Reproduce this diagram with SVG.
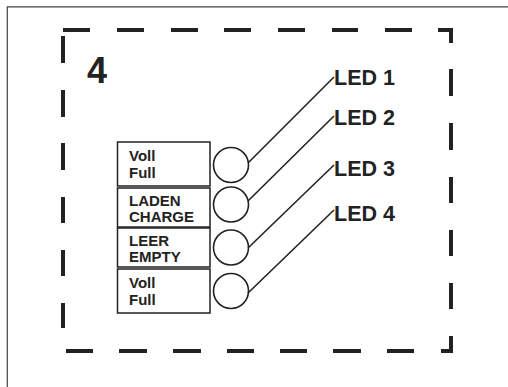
<svg xmlns="http://www.w3.org/2000/svg" width="508" height="387" viewBox="0 0 508 387">
<style>
.frame{fill:none;stroke:#444;stroke-width:1.2}
.dash{fill:none;stroke:#222;stroke-width:4;stroke-linecap:butt;stroke-linejoin:miter}
.box{fill:#fff;stroke:#222;stroke-width:1.5}
.led{fill:#fff;stroke:#222;stroke-width:1.6}
.wire{fill:none;stroke:#222;stroke-width:1.6}
.lbl{font-family:"Liberation Sans",Arial,sans-serif;font-weight:bold;fill:#222;font-size:15px}
.ledt{font-family:"Liberation Sans",Arial,sans-serif;font-weight:bold;fill:#222;font-size:21.5px}
</style>
<rect width="508" height="387" fill="#fff"/>
<path class="frame" d="M7.3,387 V6.8 H508"/>
<g id="dashed-border">
<path class="dash" d="M63,30H90M117,30H144M171,30H198M224,30H251M278,30H305M332,30H358M385,30H412M438,30H451V43"/>
<path class="dash" d="M451,69V96M451,123V150M451,177V203M451,230V256M451,283V309M451,336V351H441"/>
<path class="dash" d="M66,351H93M119,351H147M173,351H201M227,351H254M280,351H307M333,351H361M387,351H414"/>
<path class="dash" d="M63,36V63M63,90V117M63,143V170M63,197V223M63,250V276M63,303V328"/>
</g>
<text class="ledt" x="87" y="83" style="font-size:36px">4</text>
<g id="box1"><rect class="box" x="117.5" y="142" width="92.5" height="44"/><text class="lbl" x="129" y="161">Voll</text><text class="lbl" x="129" y="178">Full</text></g>
<g id="box2"><rect class="box" x="117.5" y="188" width="92.5" height="39"/><text class="lbl" x="129" y="205.5">LADEN</text><text class="lbl" x="129" y="222">CHARGE</text></g>
<g id="box3"><rect class="box" x="117.5" y="228" width="92.5" height="39"/><text class="lbl" x="129" y="245.5">LEER</text><text class="lbl" x="129" y="262">EMPTY</text></g>
<g id="box4"><rect class="box" x="117.5" y="269" width="92.5" height="44"/><text class="lbl" x="129" y="288">Voll</text><text class="lbl" x="129" y="305">Full</text></g>
<g id="led1"><circle class="led" cx="231" cy="165" r="17.5"/><text class="ledt" x="334" y="85">LED 1</text></g>
<g id="led2"><circle class="led" cx="231" cy="204.5" r="17.5"/><text class="ledt" x="334" y="125">LED 2</text></g>
<g id="led3"><circle class="led" cx="231" cy="247.5" r="17.5"/><text class="ledt" x="334" y="176">LED 3</text></g>
<g id="led4"><circle class="led" cx="231" cy="291" r="17.5"/><text class="ledt" x="334" y="220.5">LED 4</text></g>
<g id="connectors">
<path class="wire" d="M248,163L334,77"/>
<path class="wire" d="M248,201L334,116"/>
<path class="wire" d="M248,248L334,165"/>
<path class="wire" d="M248,293L334,210"/>
</g>
</svg>
